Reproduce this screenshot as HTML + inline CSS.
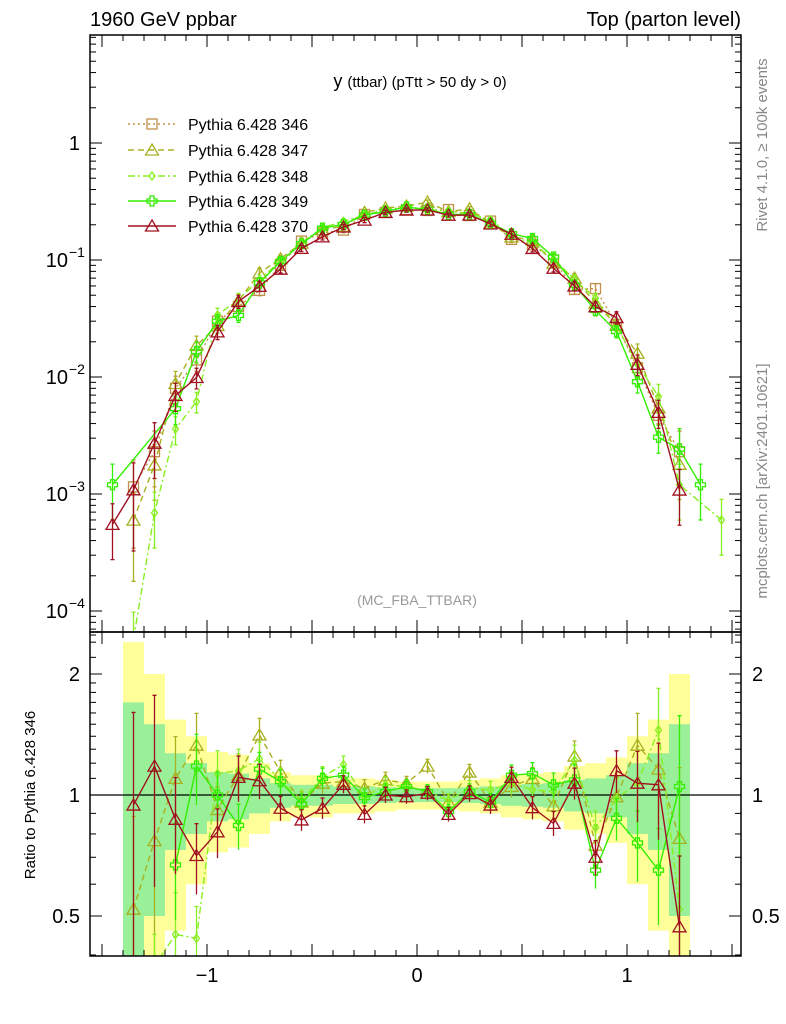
<!DOCTYPE html>
<html><head><meta charset="utf-8"><style>
html,body{margin:0;padding:0;background:#fff;width:786px;height:1024px;overflow:hidden;}
svg{display:block;font-family:"Liberation Sans",Arial,sans-serif;}
</style></head><body>
<svg id="c" width="786" height="1024" xmlns="http://www.w3.org/2000/svg">
<text x="90" y="26" font-size="20">1960 GeV ppbar</text>
<text x="741" y="26" font-size="20" text-anchor="end">Top (parton level)</text>
<text x="420" y="87" font-size="18" text-anchor="middle">y <tspan font-size="15">(ttbar) (pTtt &gt; 50 dy &gt; 0)</tspan></text>
<text x="417" y="605" font-size="14" fill="#999" text-anchor="middle">(MC_FBA_TTBAR)</text>
<text x="0" y="0" font-size="15" fill="#888" text-anchor="middle" transform="translate(767,145) rotate(-90)">Rivet 4.1.0, ≥ 100k events</text>
<text x="0" y="0" font-size="15" fill="#888" text-anchor="middle" transform="translate(767,481) rotate(-90)">mcplots.cern.ch [arXiv:2401.10621]</text>
<text x="0" y="0" font-size="15" text-anchor="middle" transform="translate(35,795) rotate(-90)">Ratio to Pythia 6.428 346</text>
</svg>
<script>
const centers=[-1.45,-1.35,-1.25,-1.15,-1.05,-0.95,-0.85,-0.75,-0.65,-0.55,-0.45,-0.35,-0.25,-0.15,-0.05,0.05,0.15,0.25,0.35,0.45,0.55,0.65,0.75,0.85,0.95,1.05,1.15,1.25,1.35,1.45];
const ref346=[null,1.15e-3,2.3e-3,8e-3,1.4e-2,3.0e-2,4.0e-2,5.5e-2,9e-2,0.145,0.17,0.18,0.245,0.255,0.27,0.265,0.27,0.24,0.215,0.15,0.135,0.10,0.056,0.057,0.028,0.012,0.0047,0.0023,null,null];
const relErr=[null,0.7,0.5,0.27,0.2,0.14,0.13,0.1,0.07,0.06,0.06,0.05,0.05,0.045,0.04,0.04,0.04,0.045,0.05,0.06,0.065,0.07,0.09,0.1,0.12,0.2,0.27,0.5,null,null];
const ratio347=[null,0.52,0.77,1.1,1.33,0.92,1.12,1.41,1.14,0.96,1.07,1.08,1.04,1.09,1.07,1.18,0.96,1.14,0.96,1.05,1.1,0.94,1.25,0.75,0.99,1.33,1.16,0.78,null,null];
const ratio348=[null,0.05,0.3,0.45,0.44,1.13,1.15,1.23,1.09,0.97,1.11,1.19,0.99,1.06,1.05,1.02,0.97,1.04,1.03,1.07,1.03,1.02,1.22,0.83,0.98,1.07,1.45,0.52,null,null];
const ratio349=[null,null,null,0.67,1.18,1.0,0.84,1.16,1.08,0.95,1.1,1.12,0.985,1.02,1.05,1.02,0.91,1.02,0.96,1.12,1.13,1.06,1.09,0.65,0.875,0.76,0.65,1.05,null,null];
const ratio370=[null,0.944,1.18,0.87,0.707,0.81,1.106,1.085,0.927,0.867,0.927,1.063,0.895,1.0,0.99,1.01,0.895,1.008,0.944,1.106,0.93,0.85,1.07,0.70,1.15,1.07,1.06,0.47,null,null];
const extra349=[1.2e-3,null,null,null,null,null,null,null,null,null,null,null,null,null,null,null,null,null,null,null,null,null,null,null,null,null,null,null,1.2e-3,null];
const extra348=[null,null,null,null,null,null,null,null,null,null,null,null,null,null,null,null,null,null,null,null,null,null,null,null,null,null,null,null,null,6e-4];
const extra370=[5.5e-4,null,null,null,null,null,null,null,null,null,null,null,null,null,null,null,null,null,null,null,null,null,null,null,null,null,null,null,null,null];
const seriesNames=["Pythia 6.428 346","Pythia 6.428 347","Pythia 6.428 348","Pythia 6.428 349","Pythia 6.428 370"];
const xTicks=[-1,0,1];const xTickLabels=["−1","0","1"];
const yTicksExp=[0,-1,-2,-3,-4];const yTickLabels=["1","10","10","10","10"];
const rTicks=[2,1,0.5];const rTickLabels=["2","1","0.5"];

const S=document.getElementById('c');const NS="http://www.w3.org/2000/svg";
function el(t,a,p){const e=document.createElementNS(NS,t);for(const k in a)e.setAttribute(k,a[k]);(p||S).appendChild(e);return e;}
const L=90,R=741,T=35,M=632,B=956;
const cl=(v,a,b)=>Math.max(a,Math.min(b,v));
const X=v=>417+210*v;
const Y=v=>cl(143-117*Math.log10(v),T-10,M+10);
const RY=v=>cl(795-402*Math.log10(v),M-10,B+10);
const bw=0.1;
const cols=["#c0904a","#a8b020","#88f020","#33ee00","#a01020"];
const dashes=["2,3","6,4","7,3,2,3",null,null];
const markers=["sq","tri","dia","cross","tri"];

const gB=el('g',{});
const clipR=el('clipPath',{id:'cr'});el('rect',{x:L,y:M,width:R-L,height:B-M},clipR);
const clipM=el('clipPath',{id:'cm'});el('rect',{x:L,y:T,width:R-L,height:M-T},clipM);
gB.setAttribute('clip-path','url(#cr)');
centers.forEach((c,i)=>{if(relErr[i]==null)return;const e=relErr[i];
 const x0=X(c-bw/2),x1=X(c+bw/2);
 const yu=RY(1+2*e),yl=(1-2*e)>0.01?RY(1-2*e):B+5;
 const r1=el('rect',{x:x0,y:yu,width:x1-x0,height:yl-yu,fill:'#ffff99'},gB);
 
 const gu=RY(1+e),gl=(1-e)>0.01?RY(1-e):B+5;
 const r2=el('rect',{x:x0,y:gu,width:x1-x0,height:gl-gu,fill:'#99f099'},gB);
 
});
el('line',{x1:L,x2:R,y1:RY(1),y2:RY(1),stroke:'#000','stroke-width':1.2});

function marker(g,t,x,y,col){
 if(t=='sq')el('rect',{x:x-5,y:y-5,width:10,height:10,fill:'none',stroke:col,'stroke-width':1.3},g);
 else if(t=='tri')el('path',{d:`M${x},${y-6}L${x+6.5},${y+5}L${x-6.5},${y+5}Z`,fill:'none',stroke:col,'stroke-width':1.3},g);
 else if(t=='dia')el('path',{d:`M${x},${y-4}L${x+3},${y}L${x},${y+4}L${x-3},${y}Z`,fill:'none',stroke:col,'stroke-width':1.3},g);
 else el('path',{d:`M${x-2},${y-5}h4v3h3v4h-3v3h-4v-3h-3v-4h3Z`,fill:'none',stroke:col,'stroke-width':1.3},g);
}
const ratios=[null,ratio347,ratio348,ratio349,ratio370];
const extras=[null,null,extra348,extra349,extra370];
function drawSeries(k){
 const g=el('g',{'clip-path':'url(#cm)'});
 const gr=el('g',{'clip-path':'url(#cr)'});
 const pts=[],rpts=[];
 centers.forEach((c,i)=>{
  let v=null,r=null;
  if(k==0){v=ref346[i];if(v!=null)r=1;}
  else{const rr=ratios[k][i];if(rr!=null&&ref346[i]!=null){v=ref346[i]*rr;r=rr;}
   if(v==null&&extras[k]&&extras[k][i]!=null)v=extras[k][i];}
  if(v!=null)pts.push([c,v,relErr[i]==null?0.5:relErr[i]]);
  if(r!=null&&k>0)rpts.push([c,r,relErr[i]]);
 });
 const st={fill:'none',stroke:cols[k],'stroke-width':1.4};if(dashes[k])st['stroke-dasharray']=dashes[k];
 el('path',Object.assign({d:pts.map((p,j)=>(j?'L':'M')+X(p[0])+','+Y(p[1])).join('')},st),g);
 pts.forEach(p=>{const x=X(p[0]);const e=Math.min(p[2],0.9);
  el('path',{d:`M${x},${Y(p[1]*(1+e))}V${Y(p[1]*(1-e))}M${x-2},${Y(p[1]*(1+e))}h4M${x-2},${Y(p[1]*(1-e))}h4`,stroke:cols[k],'stroke-width':1.3},g);
  marker(g,markers[k],x,Y(p[1]),cols[k]);});
 if(k>0){
  el('path',Object.assign({d:rpts.map((p,j)=>(j?'L':'M')+X(p[0])+','+RY(p[1])).join('')},st),gr);
  rpts.forEach(p=>{const x=X(p[0]);const e=Math.min(p[2],0.9);
   el('path',{d:`M${x},${RY(p[1]*(1+e))}V${RY(Math.max(p[1]*(1-e),0.01))}M${x-2},${RY(p[1]*(1+e))}h4`,stroke:cols[k],'stroke-width':1.3},gr);
   marker(gr,markers[k],x,RY(p[1]),cols[k]);});
 }
}
for(let k=0;k<5;k++)drawSeries(k);

el('rect',{x:L,y:T,width:R-L,height:M-T,fill:'none',stroke:'#000','stroke-width':1.5});
el('rect',{x:L,y:M,width:R-L,height:B-M,fill:'none',stroke:'#000','stroke-width':1.5});
for(let i=-15;i<=15;i++){const v=i/10;const x=X(v);if(x<L||x>R)continue;const maj=i%5==0;const len=maj?12:6;
 [[T,1],[M,-1],[M,1],[B,-1]].forEach(([y,d])=>el('line',{x1:x,x2:x,y1:y,y2:y+d*len,stroke:'#000','stroke-width':1}));}
xTicks.forEach((v,i)=>{const t=el('text',{x:X(v),y:982,'font-size':20,'text-anchor':'middle'});t.textContent=xTickLabels[i];});
for(let e=-5;e<=1;e++){for(let m=1;m<10;m++){const v=m*Math.pow(10,e);const y=143-117*Math.log10(v);if(y<T||y>M)continue;const len=m==1?12:6;
 el('line',{x1:L,x2:L+len,y1:y,y2:y,stroke:'#000'});el('line',{x1:R,x2:R-len,y1:y,y2:y,stroke:'#000'});}}
yTicksExp.forEach((e,i)=>{const y=Y(Math.pow(10,e));const t=el('text',{x:e==0?80:68,y:y+7,'font-size':20,'text-anchor':'end'});t.textContent=yTickLabels[i];
 if(e!=0){const s=el('text',{x:69,y:y-3,'font-size':14});s.textContent='−'+(-e);}});
[0.4,0.5,0.6,0.7,0.8,0.9,1,1.5,2,2.5].forEach(v=>{const y=795-402*Math.log10(v);if(y<M||y>B)return;const len=(v==1||v==2||v==0.5)?12:6;
 el('line',{x1:L,x2:L+len,y1:y,y2:y,stroke:'#000'});el('line',{x1:R,x2:R-len,y1:y,y2:y,stroke:'#000'});});
[1.1,1.2,1.3,1.4,1.6,1.7,1.8,1.9,2.2,2.4].forEach(v=>{const y=RY(v);el('line',{x1:L,x2:L+6,y1:y,y2:y,stroke:'#000'});el('line',{x1:R,x2:R-6,y1:y,y2:y,stroke:'#000'});});
rTicks.forEach((v,i)=>{const y=RY(v)+7;
 const a=el('text',{x:80,y:y,'font-size':20,'text-anchor':'end'});a.textContent=rTickLabels[i];
 const b=el('text',{x:752,y:y,'font-size':20});b.textContent=rTickLabels[i];});
const lg=el('g',{});
[124,150,176,201,226].forEach((y,k)=>{const g=el('g',{},lg);
 const st={stroke:cols[k],'stroke-width':1.4};if(dashes[k])st['stroke-dasharray']=dashes[k];
 el('line',Object.assign({x1:128,x2:176,y1:y,y2:y},st),g);marker(g,markers[k],152,y,cols[k]);
 const t=el('text',{x:188,y:y+6,'font-size':16},g);t.textContent=seriesNames[k];});
</script>
</body></html>
